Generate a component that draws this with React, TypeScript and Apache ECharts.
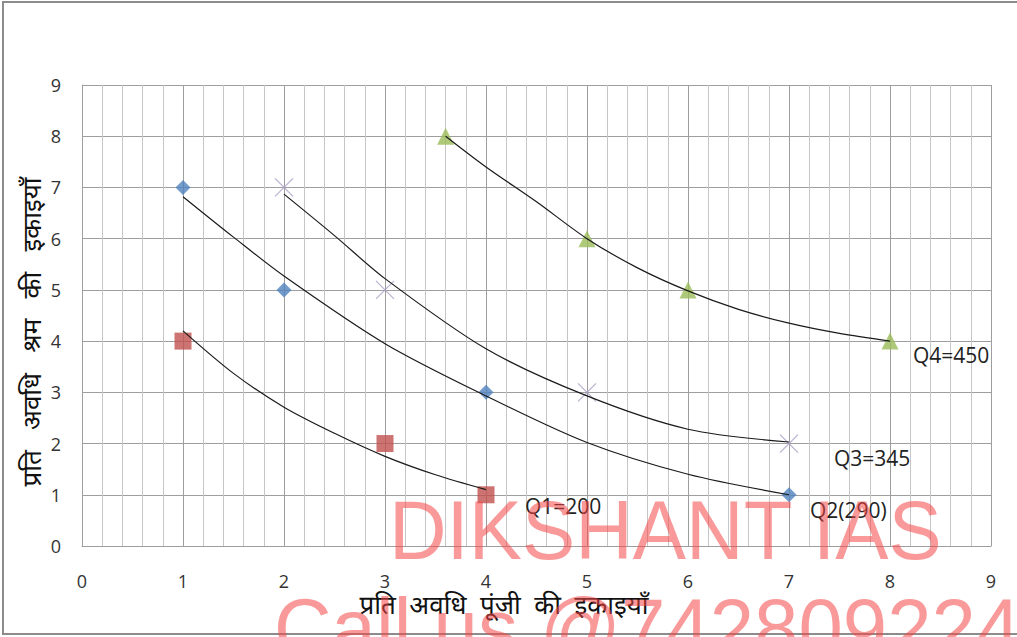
import React, { useEffect, useRef } from "react";
import * as echarts from "echarts";

// Observed points (capital units, labour units)
const q1Points: number[][] = [[1, 4], [3, 2], [4, 1]];
const q2Points: number[][] = [[1, 7], [2, 5], [4, 3], [7, 1]];
const q3Points: number[][] = [[2, 7], [3, 5], [5, 3], [7, 2]];
const q4Points: number[][] = [[3.6, 8], [5, 6], [6, 5], [8, 4]];

// Isoquant trend curves
const q1CurveX = [1, 1.5, 2, 2.5, 3, 3.5, 4];
const q1CurveY = [4.2, 3.37, 2.71, 2.2, 1.75, 1.39, 1.1];
const q2CurveX = [1, 1.5, 2, 3, 4, 5, 6, 7];
const q2CurveY = [6.82, 6.03, 5.27, 3.95, 2.93, 2.02, 1.4, 1.0];
const q3CurveX = [2, 2.5, 3, 4, 5, 6, 7];
const q3CurveY = [6.87, 6.06, 5.22, 3.85, 2.93, 2.28, 2.03];
const q4CurveX = [3.6, 4, 4.5, 5, 5.5, 6, 6.5, 7, 7.5, 8];
const q4CurveY = [8.0, 7.4, 6.72, 6.0, 5.43, 4.98, 4.62, 4.35, 4.15, 4.0];

const curveLabels = ["Q1=200", "Q2(290)", "Q3=345", "Q4=450"];
const xTitle = "प्रति  अवधि  पूंजी  की  इकाइयाँ";
const yTitle = "प्रति   अवधि   श्रम   की   इकाइयाँ";
const watermark1 = "DIKSHANT IAS";
const watermark2 = "Call us @7428092240";

const pair = (xs: number[], ys: number[]) => xs.map((x, i) => [x, ys[i]]);

const LATIN = "'Open Sans', 'Noto Sans', sans-serif";
const DEVA = "'Noto Sans Devanagari', 'Lohit Devanagari', 'Noto Sans', sans-serif";

export default function App() {
  const ref = useRef<HTMLDivElement>(null);
  useEffect(() => {
    if (!ref.current) return;
    const chart = echarts.init(ref.current, null, { renderer: "svg" });
    const curve = (name: string, xs: number[], ys: number[]) => ({
      name,
      type: "line",
      data: pair(xs, ys),
      smooth: 0.3,
      showSymbol: false,
      symbol: "none",
      lineStyle: { color: "#1a1a1a", width: 1.2 },
      z: 5,
      silent: true,
    });
    chart.setOption({
      animation: false,
      backgroundColor: "#ffffff",
      grid: { left: 82, right: 26, top: 85, bottom: 91, containLabel: false },
      xAxis: {
        type: "value",
        min: 0,
        max: 9,
        interval: 1,
        axisLine: { show: true, lineStyle: { color: "#9e9e9e", width: 1 } },
        axisTick: { show: false },
        axisLabel: { color: "#333", fontSize: 18, fontFamily: LATIN, margin: 26 },
        splitLine: { show: true, lineStyle: { color: "#9e9e9e", width: 1 } },
        minorTick: { show: false, splitNumber: 5 },
        minorSplitLine: { show: true, lineStyle: { color: "#c6c6c6", width: 1 } },
      },
      yAxis: {
        type: "value",
        min: 0,
        max: 9,
        interval: 1,
        axisLine: { show: true, lineStyle: { color: "#9e9e9e", width: 1 } },
        axisTick: { show: false },
        axisLabel: { color: "#333", fontSize: 18, fontFamily: LATIN, margin: 21 },
        splitLine: { show: true, lineStyle: { color: "#9e9e9e", width: 1 } },
      },
      series: [
        {
          name: "Q1",
          type: "scatter",
          data: q1Points,
          symbol: "rect",
          symbolSize: 17,
          itemStyle: { color: "#C0504D" },
          z: 3,
        },
        {
          name: "Q2",
          type: "scatter",
          data: q2Points,
          symbol: "diamond",
          symbolSize: 15,
          itemStyle: { color: "#4F81BD" },
          z: 3,
        },
        {
          name: "Q3",
          type: "scatter",
          data: q3Points,
          symbol: "path://M0,0L10,10M10,0L0,10",
          symbolSize: 18,
          itemStyle: { color: "none", borderColor: "#a99cc4", borderWidth: 1.2 },
          z: 3,
        },
        {
          name: "Q4",
          type: "scatter",
          data: q4Points,
          symbol: "triangle",
          symbolSize: 17,
          itemStyle: { color: "#9BBB59" },
          z: 3,
        },
        curve("Q1 curve", q1CurveX, q1CurveY),
        curve("Q2 curve", q2CurveX, q2CurveY),
        curve("Q3 curve", q3CurveX, q3CurveY),
        curve("Q4 curve", q4CurveX, q4CurveY),
      ],
      graphic: [
        {
          type: "rect",
          shape: { x: 3, y: 2, width: 1040, height: 632 },
          style: { fill: "none", stroke: "#8c8c8c", lineWidth: 2 },
          silent: true,
          z: 1,
        },
        {
          type: "text",
          x: 35,
          y: 332,
          rotation: Math.PI / 2,
          style: { text: yTitle, fill: "#111", fontSize: 26, fontFamily: DEVA, align: "center", verticalAlign: "middle" },
          z: 10,
        },
        {
          type: "text",
          x: 504,
          y: 608,
          style: { text: xTitle, fill: "#111", fontSize: 26, fontFamily: DEVA, align: "center", verticalAlign: "middle" },
          z: 10,
        },
        {
          type: "text",
          x: 525,
          y: 506,
          style: { text: curveLabels[0], fill: "#222", fontSize: 21, fontFamily: LATIN, align: "left", verticalAlign: "middle" },
          z: 10,
        },
        {
          type: "text",
          x: 810,
          y: 510,
          style: { text: curveLabels[1], fill: "#222", fontSize: 21, fontFamily: LATIN, align: "left", verticalAlign: "middle" },
          z: 10,
        },
        {
          type: "text",
          x: 834,
          y: 458,
          style: { text: curveLabels[2], fill: "#222", fontSize: 21, fontFamily: LATIN, align: "left", verticalAlign: "middle" },
          z: 10,
        },
        {
          type: "text",
          x: 913,
          y: 355,
          style: { text: curveLabels[3], fill: "#222", fontSize: 21, fontFamily: LATIN, align: "left", verticalAlign: "middle" },
          z: 10,
        },
        {
          type: "text",
          x: 389,
          y: 530,
          scaleX: 0.95,
          style: {
            text: watermark1,
            fill: "rgba(245, 70, 70, 0.55)",
            fontSize: 84,
            fontFamily: "'Liberation Sans', Arial, sans-serif",
            align: "left",
            verticalAlign: "middle",
          },
          silent: true,
          z: 20,
        },
        {
          type: "text",
          x: 274,
          y: 628,
          scaleX: 0.95,
          style: {
            text: watermark2,
            fill: "rgba(245, 70, 70, 0.55)",
            fontSize: 84,
            fontFamily: "'Liberation Sans', Arial, sans-serif",
            align: "left",
            verticalAlign: "middle",
          },
          silent: true,
          z: 20,
        },
      ],
    });
    return () => chart.dispose();
  }, []);
  return (
    <div
      ref={ref}
      style={{ position: "fixed", left: 0, top: 0, width: 1017, height: 637, background: "#fff" }}
    />
  );
}
